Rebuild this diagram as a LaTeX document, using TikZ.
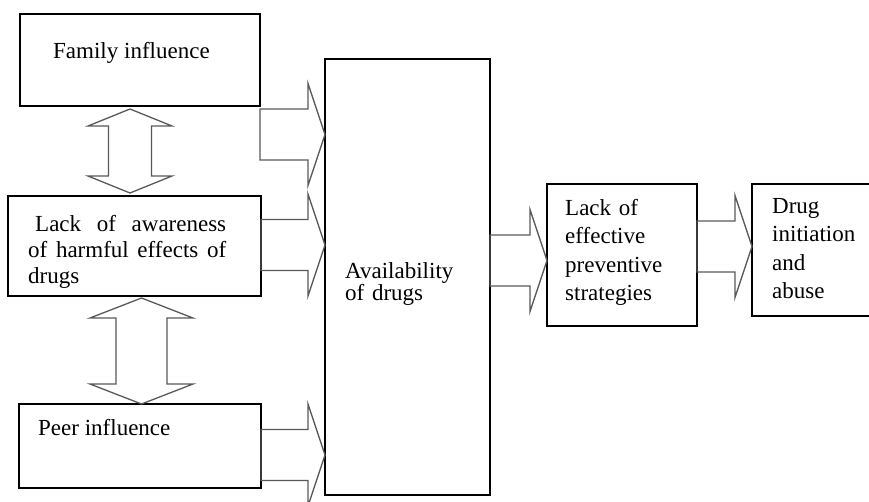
\documentclass[tikz,border=0pt]{standalone}
\usepackage{fontspec}
\setmainfont{Liberation Serif}
\usetikzlibrary{calc}

\tikzset{
  box/.style={draw, line width=1.3pt, inner sep=0pt, outer sep=0pt, anchor=north west},
  txt/.style={inner sep=0pt, anchor=base west, font=\fontsize{23}{28.5}\selectfont},
  fat/.style={draw=black!65, line width=1.3pt, line join=miter},
}

% block arrow: tail point, tip point
\newcommand{\fatarrow}[2]{%
  \draw[fat] ($(#1)+(0,-25.5)$) -- ($(#2)+(-17,-25.5)$) -- ++(0,-25.5) -- (#2)
    -- ++(-17,51) -- ++(0,-25.5) -- ($(#1)+(0,25.5)$) -- cycle;}

% two way block arrow: top tip, bottom tip, shaft half, head half, head length
\newcommand{\twowayarrow}[5]{%
  \draw[fat] (#1) -- ++(#4,#5) -- ++({#3-#4},0) -- ($(#2)+(#3,-#5)$) -- ++({#4-#3},0) -- (#2)
    -- ++(-#4,-#5) -- ++({#4-#3},0) -- ($(#1)+(-#3,#5)$) -- ++({#3-#4},0) -- cycle;}

\begin{document}
\begin{tikzpicture}[x=1pt, y=-1pt]
    \useasboundingbox (0,0) rectangle (869,501);
    \clip (0,0) rectangle (869,501);

    % boxes
    \node[box, minimum width=240, minimum height=92] (fam) at (20,14) {};
    \node[box, minimum width=253, minimum height=100] (lack) at (8,196) {};
    \node[box, minimum width=242, minimum height=84] (peer) at (19,404) {};
    \node[box, minimum width=165, minimum height=436] (avail) at (325,59) {};
    \node[box, minimum width=150, minimum height=142] (lackeff) at (547,184) {};
    \node[box, minimum width=160, minimum height=132] (drug) at (752,184) {};

    % texts
    \node[txt] (famtxt) at (53,58) {Family influence};
    \node[txt, text width=198, align=justify, font=\fontsize{23}{26}\selectfont] (lacktxt) at (28,231)
      {\hspace*{7pt}Lack of awareness\linebreak of harmful effects of\linebreak drugs};
    \node[txt] (peertxt) at (38,435) {Peer influence};
    \node[txt, text width=140, align=left, font=\fontsize{23}{20.6}\selectfont] (availtxt) at (345,278)
      {Availability\\of drugs};
    \node[txt, text width=130, align=left] (lackefftxt) at (565,215)
      {Lack of\\effective\\preventive\\strategies};
    \node[txt, text width=110, align=left] (drugtxt) at (772,213)
      {Drug\\initiation\\and\\abuse};

    % arrow ends
    \coordinate (t1) at (fam.east |- 0,134.5);
    \coordinate (h1) at (avail.west |- t1);
    \coordinate (t2) at (lack.east |- 0,245);
    \coordinate (h2) at (avail.west |- t2);
    \coordinate (t3) at (peer.east |- 0,455);
    \coordinate (h3) at (avail.west |- t3);
    \coordinate (t4) at (avail.east |- 0,260.5);
    \coordinate (h4) at (lackeff.west |- t4);
    \coordinate (t5) at (lackeff.east |- 0,246.5);
    \coordinate (h5) at (drug.west |- t5);
    \coordinate (d1t) at ($(fam.south)+(-10,3)$);
    \coordinate (d1b) at ($(lack.north -| d1t)+(0,-3)$);
    \coordinate (d2t) at ($(lack.south)+(7,2)$);
    \coordinate (d2b) at (peer.north -| d2t);

    % arrows
    \fatarrow{t1}{h1}
    \fatarrow{t2}{h2}
    \fatarrow{t3}{h3}
    \fatarrow{t4}{h4}
    \fatarrow{t5}{h5}
    \twowayarrow{d1t}{d1b}{21.5}{42}{17}
    \twowayarrow{d2t}{d2b}{25.5}{51.5}{20}
\end{tikzpicture}
\end{document}
